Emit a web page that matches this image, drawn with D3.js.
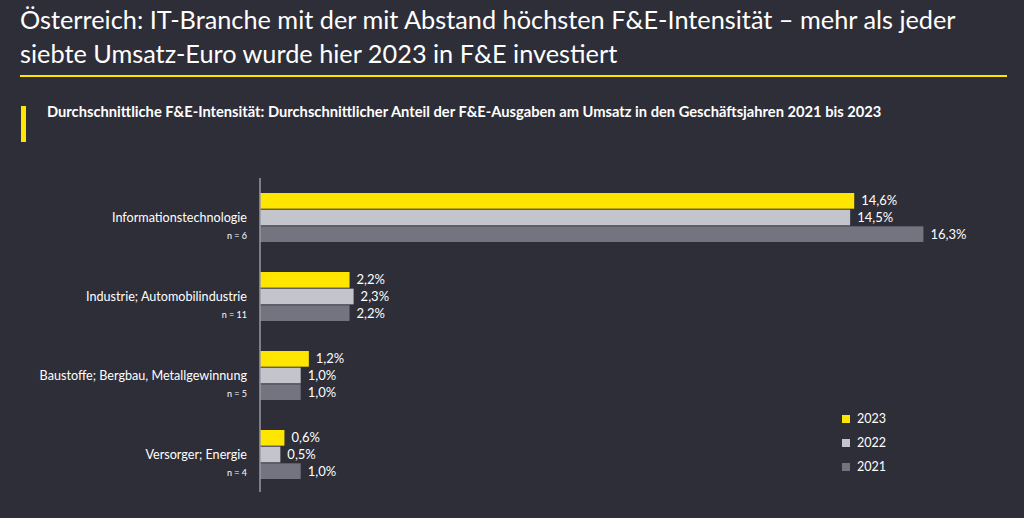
<!DOCTYPE html>
<html><head><meta charset="utf-8">
<script src="https://cdn.jsdelivr.net/npm/d3@7"></script>
<style>
html,body{margin:0;padding:0;background:#2e2e38;}
svg{display:block;}
</style></head>
<body>
<svg id="chart" width="1024" height="518"></svg>
<script>
const titleLines = ["Österreich: IT-Branche mit der mit Abstand höchsten F&E-Intensität – mehr als jeder",
                    "siebte Umsatz-Euro wurde hier 2023 in F&E investiert"];
const subtitle = "Durchschnittliche F&E-Intensität: Durchschnittlicher Anteil der F&E-Ausgaben am Umsatz in den Geschäftsjahren 2021 bis 2023";
const categories = ["Informationstechnologie","Industrie; Automobilindustrie","Baustoffe; Bergbau, Metallgewinnung","Versorger; Energie"];
const sampleSizes = ["n = 6","n = 11","n = 5","n = 4"];
const series = ["2023","2022","2021"];
const values2023 = [14.6, 2.2, 1.2, 0.6];
const values2022 = [14.5, 2.3, 1.0, 0.5];
const values2021 = [16.3, 2.2, 1.0, 1.0];
const seriesColors = ["#ffe600","#c4c4cd","#747480"];

const valuesBySeries = [values2023, values2022, values2021];
const fmt = v => d3.format(".1f")(v).replace(".", ",") + "%";

const svg = d3.select("#chart");
const font = "Lato, 'Open Sans', sans-serif";

function fitWidth(sel, w){
  const n = sel.node();
  const cur = parseFloat(sel.attr("font-size"));
  const len = n.getComputedTextLength();
  const fs = cur * w / len;
  sel.attr("font-size", fs.toFixed(2));
  return fs;
}

// Title
const t1 = svg.append("text").attr("x",20).attr("y",29).attr("fill","#ffffff")
  .attr("font-family",font).attr("font-size",24).text(titleLines[0]);
const tfs = fitWidth(t1, 936);
svg.append("text").attr("x",20).attr("y",63).attr("fill","#ffffff")
  .attr("font-family",font).attr("font-size",tfs.toFixed(2)).text(titleLines[1]);
svg.append("line").attr("x1",20).attr("x2",1007).attr("y1",76).attr("y2",76)
  .attr("stroke","#ffe600").attr("stroke-width",2);

// Subtitle
svg.append("rect").attr("x",21).attr("y",106).attr("width",5).attr("height",36).attr("fill","#ffe600");
const st = svg.append("text").attr("x",47).attr("y",117).attr("fill","#ffffff")
  .attr("font-family",font).attr("font-weight",700).attr("font-size",13).text(subtitle);
fitWidth(st, 835);

// Scales
const y0 = d3.scaleBand().domain(categories).range([178,494]).paddingInner(0.38).paddingOuter(0.19);
const y1 = d3.scaleBand().domain(series).range([0, y0.bandwidth()]).paddingInner(0.06);
const x = d3.scaleLinear().domain([0,18]).range([260, 260 + 18*40.7]);

// Bars
const groups = svg.append("g").selectAll("g").data(categories).join("g")
  .attr("transform", d => `translate(0,${y0(d)})`);

groups.each(function(cat, ci){
  const g = d3.select(this);
  series.forEach((s, si) => {
    const v = valuesBySeries[si][ci];
    g.append("rect").attr("x", x(0)).attr("y", y1(s)).attr("width", x(v)-x(0))
      .attr("height", y1.bandwidth()).attr("fill", seriesColors[si]);
    g.append("text").attr("x", x(v)+7).attr("y", y1(s)+y1.bandwidth()/2)
      .attr("dy","0.35em").attr("fill","#ffffff").attr("font-family",font)
      .attr("font-size",13).text(fmt(v));
  });
});

// Category labels
let cfs = 13;
categories.forEach((c, i) => {
  const cy = y0(c) + y0.bandwidth()/2;
  const lab = svg.append("text").attr("x",247).attr("y",cy).attr("dy","0.35em").attr("text-anchor","end")
    .attr("fill","#ffffff").attr("font-family",font).attr("font-size",cfs).text(c);
  if (i === 0) { cfs = fitWidth(lab, 135); }
  else lab.attr("font-size", cfs.toFixed(2));
  svg.append("text").attr("x",247).attr("y",cy+18).attr("dy","0.35em").attr("text-anchor","end")
    .attr("fill","#ffffff").attr("font-family",font).attr("font-size",9).text(sampleSizes[i]);
});

// Axis line (y axis, no ticks)
const yAxis = d3.axisLeft(y0).tickSize(0).tickFormat("");
const ax = svg.append("g").attr("transform",`translate(${x(0)},0)`).call(yAxis);
ax.select(".domain").attr("stroke","#9a9aa6").attr("stroke-width",1.5).attr("d",`M0,178V492`);

// Legend
const legend = svg.append("g");
series.forEach((s, i) => {
  const ly = 419 + i*24;
  legend.append("rect").attr("x",842).attr("y",ly-4).attr("width",8).attr("height",8).attr("fill",seriesColors[i]);
  legend.append("text").attr("x",857).attr("y",ly).attr("dy","0.35em").attr("fill","#ffffff")
    .attr("font-family",font).attr("font-size",12.5).text(s);
});
</script>
</body></html>
